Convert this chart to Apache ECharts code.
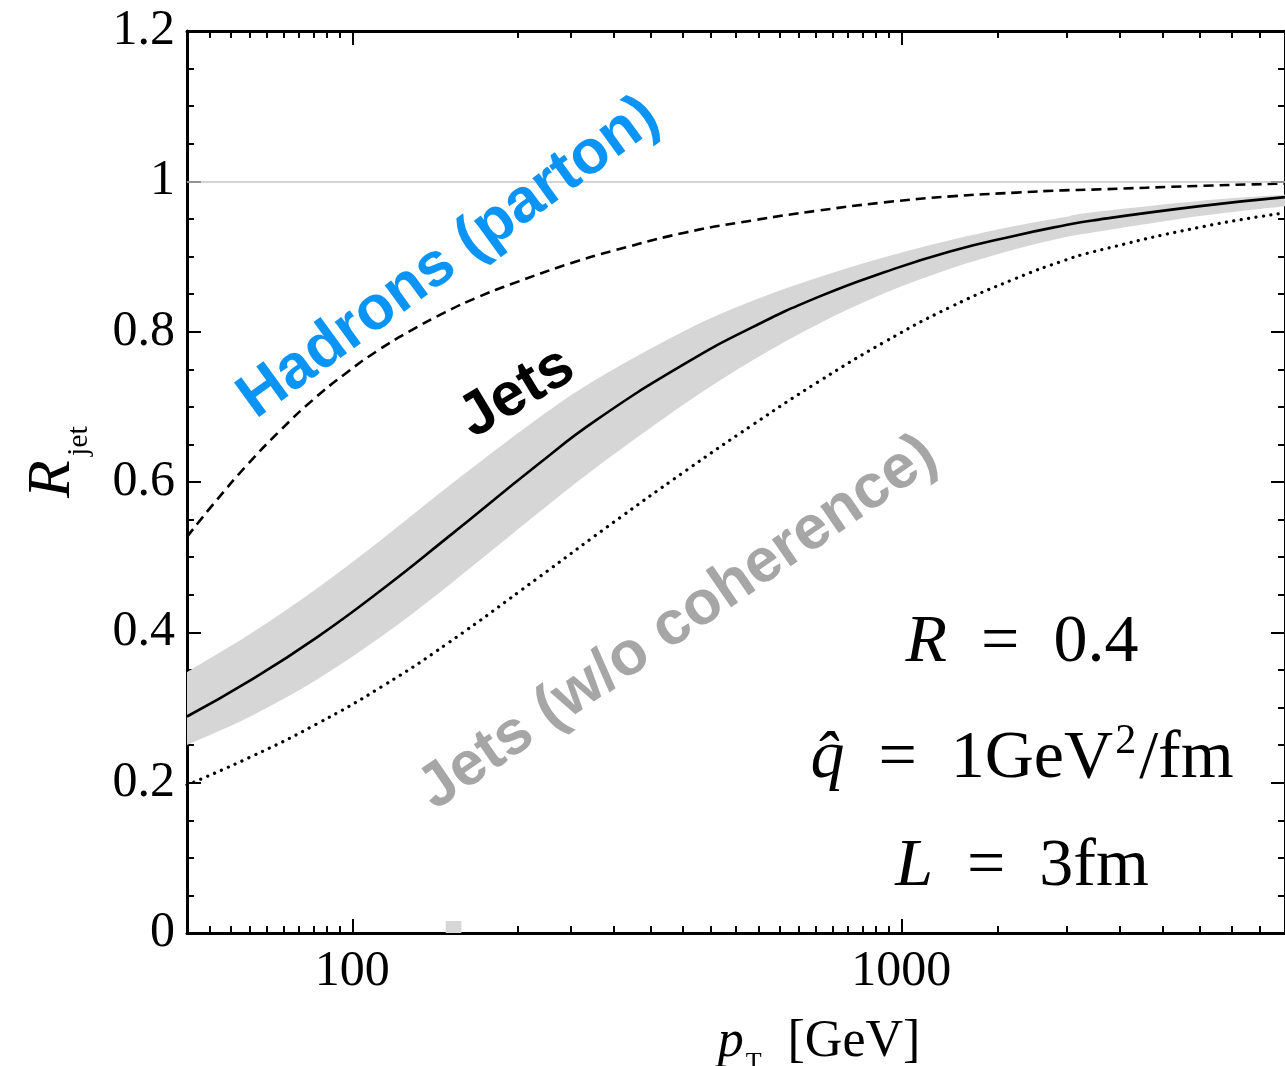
<!DOCTYPE html>
<html>
<head>
<meta charset="utf-8">
<script src="https://cdn.jsdelivr.net/npm/echarts@6.0.0/dist/echarts.min.js"></script>
<style>
  html, body { margin: 0; padding: 0; background: #ffffff; }
  #chart { width: 1285px; height: 1066px; }
</style>
</head>
<body>
<div id="chart"></div>
<script>
// Jet suppression factor R_jet versus jet p_T (GeV), R = 0.4, qhat = 1 GeV^2/fm, L = 3 fm

// Hadrons (leading parton), dashed
const ptHadron = [50, 55.9, 64.4, 73.8, 84.7, 97.5, 111.9, 128.3, 147.8, 169.5, 194.4, 250, 300, 405, 536, 705, 931, 1231, 1619, 1968, 2230, 3500, 5000];
const rHadron  = [0.527, 0.571, 0.623, 0.668, 0.709, 0.745, 0.776, 0.802, 0.826, 0.846, 0.863, 0.891, 0.908, 0.932, 0.948, 0.961, 0.972, 0.980, 0.985, 0.988, 0.989, 0.994, 0.997];

// Jets, solid central curve
const ptJet = [50, 65.2, 86.1, 113.3, 149.6, 217.5, 279, 405, 536, 705, 931, 1231, 1619, 1968, 2230, 3500, 5000];
const rJet  = [0.288, 0.336, 0.393, 0.457, 0.527, 0.623, 0.683, 0.758, 0.806, 0.846, 0.879, 0.907, 0.928, 0.941, 0.948, 0.967, 0.979];

// Jets, uncertainty band (lower / upper edge)
const ptBand    = [50, 65.2, 86.1, 113.3, 149.6, 217.5, 279, 405, 536, 705, 931, 1231, 1619, 1968, 2230, 3500, 5000];
const rBandLow  = [0.250, 0.288, 0.337, 0.395, 0.462, 0.558, 0.620, 0.705, 0.762, 0.810, 0.851, 0.884, 0.910, 0.925, 0.932, 0.954, 0.967];
const rBandHigh = [0.347, 0.398, 0.458, 0.524, 0.594, 0.684, 0.737, 0.802, 0.841, 0.872, 0.899, 0.922, 0.941, 0.952, 0.959, 0.974, 0.982];

// Jets without colour coherence, dotted
const ptNoCoh = [50, 65.2, 86.1, 113.3, 149.6, 217.5, 291, 405, 536, 705, 931, 1231, 1619, 1968, 2230, 3500, 5000];
const rNoCoh  = [0.197, 0.234, 0.278, 0.328, 0.386, 0.472, 0.540, 0.615, 0.676, 0.733, 0.786, 0.833, 0.871, 0.894, 0.906, 0.939, 0.958];

// Axis ticks
const xMajorTicks = [100, 1000];
const xMinorTicks = [55, 60, 65, 70, 75, 80, 85, 90, 95,
                     200, 250, 300, 350, 400, 450, 500, 550, 600, 650, 700, 750, 800, 850, 900, 950,
                     1500, 2000, 2500, 3000, 3500, 4000, 4500];
const xMarkerBin = [148, 158];   // light grey marker on the p_T axis

const pairs = (xs, ys) => xs.map((x, i) => [x, ys[i]]);

const serif = '"Liberation Serif", "Times New Roman", serif';
const sans = '"Liberation Sans", Arial, Helvetica, sans-serif';

const gridBox = { left: 187, top: 31, width: 1107, height: 902 };

function xAxisDef(position, ticks, len, showLine, showLabel) {
  return {
    type: 'log', logBase: 10, min: 50, max: 5000, position: position,
    axisLine: { show: showLine, lineStyle: { color: '#000', width: 3 } },
    axisTick: { show: true, inside: true, length: len, customValues: ticks,
                lineStyle: { color: '#000', width: 2 } },
    axisLabel: { show: showLabel, customValues: xMajorTicks, margin: 14,
                 formatter: (v) => String(Math.round(v)),
                 color: '#000', fontFamily: serif, fontSize: 50 },
    splitLine: { show: false }, minorTick: { show: false }, minorSplitLine: { show: false }
  };
}

function yAxisDef(position, showLabel) {
  return {
    type: 'value', min: 0, max: 1.2, interval: 0.2, position: position,
    axisLine: { show: true, lineStyle: { color: '#000', width: 3 } },
    axisTick: { show: true, inside: true, length: 14, lineStyle: { color: '#000', width: 2 } },
    minorTick: { show: true, splitNumber: 4, length: 7, lineStyle: { color: '#000', width: 2 } },
    axisLabel: { show: showLabel, margin: 12, color: '#000', fontFamily: serif, fontSize: 50 },
    splitLine: { show: false }, minorSplitLine: { show: false }
  };
}

// Catmull-Rom style cubic segments through projected pixel points
function curveSegments(pts) {
  let d = '';
  for (let i = 0; i < pts.length - 1; i++) {
    const p0 = pts[i - 1] || pts[i], p1 = pts[i], p2 = pts[i + 1], p3 = pts[i + 2] || pts[i + 1];
    const c1x = p1[0] + (p2[0] - p0[0]) / 6, c1y = p1[1] + (p2[1] - p0[1]) / 6;
    const c2x = p2[0] - (p3[0] - p1[0]) / 6, c2y = p2[1] - (p3[1] - p1[1]) / 6;
    d += ' C ' + c1x + ' ' + c1y + ' ' + c2x + ' ' + c2y + ' ' + p2[0] + ' ' + p2[1];
  }
  return d;
}

// Band between the lower and upper edges, projected through the chart's axes
function renderBand(params, api) {
  if (params.dataIndex !== 0) return null;
  const upper = ptBand.map((x, i) => api.coord([x, rBandHigh[i]]));
  const lower = ptBand.map((x, i) => api.coord([x, rBandLow[i]])).reverse();
  const d = 'M ' + upper[0][0] + ' ' + upper[0][1] + curveSegments(upper) +
            ' L ' + lower[0][0] + ' ' + lower[0][1] + curveSegments(lower) + ' Z';
  return {
    type: 'path',
    shape: { pathData: d },
    style: { fill: '#d6d6d6', stroke: null }
  };
}

const chart = echarts.init(document.getElementById('chart'), null, { renderer: 'canvas' });

const option = {
  backgroundColor: '#ffffff',
  animation: false,
  grid: gridBox,
  xAxis: [
    xAxisDef('bottom', xMajorTicks, 14, true, true),
    xAxisDef('bottom', xMinorTicks, 7, false, false),
    xAxisDef('top', xMajorTicks, 14, true, false),
    xAxisDef('top', xMinorTicks, 7, false, false)
  ],
  yAxis: [
    yAxisDef('left', true),
    yAxisDef('right', false)
  ],
  series: [
    {
      name: 'band', type: 'custom', silent: true, clip: true, z: 1,
      data: ptBand.map((x, i) => [x, rBandLow[i], rBandHigh[i]]),
      encode: { x: 0, y: [1, 2] },
      renderItem: renderBand,
      markLine: {
        silent: true, symbol: 'none', label: { show: false },
        lineStyle: { color: '#c4c4c4', width: 1.5, type: 'solid' },
        data: [{ yAxis: 1 }]
      },
      markArea: {
        silent: true, itemStyle: { color: '#d6d6d6' },
        data: [[{ coord: [xMarkerBin[0], 0] }, { coord: [xMarkerBin[1], 0.016] }]]
      }
    },
    {
      name: 'Jets (w/o coherence)', type: 'line', smooth: 0.5, symbol: 'none',
      data: pairs(ptNoCoh, rNoCoh),
      lineStyle: { color: '#000', width: 3.2, type: [0.1, 7.4], cap: 'round' }, z: 3
    },
    {
      name: 'Jets', type: 'line', smooth: 0.5, symbol: 'none',
      data: pairs(ptJet, rJet),
      lineStyle: { color: '#000', width: 2.6 }, z: 3
    },
    {
      name: 'Hadrons (parton)', type: 'line', smooth: 0.5, symbol: 'none',
      data: pairs(ptHadron, rHadron),
      lineStyle: { color: '#000', width: 2.6, type: [10, 6] }, z: 3
    }
  ],
  graphic: [
    // axis titles
    {
      type: 'text', x: 819, y: 1040, z: 100,
      style: {
        text: '{i|p}{s|T}{n|  [GeV]}', align: 'center', verticalAlign: 'middle',
        rich: {
          i: { fontFamily: serif, fontStyle: 'italic', fontSize: 52, fill: '#000', verticalAlign: 'bottom', lineHeight: 56 },
          s: { fontFamily: serif, fontSize: 26, fill: '#000', verticalAlign: 'bottom', lineHeight: 56, padding: [0, 0, -8, 2] },
          n: { fontFamily: serif, fontSize: 52, fill: '#000', verticalAlign: 'bottom', lineHeight: 56 }
        }
      },
      silent: true
    },
    {
      type: 'text', x: 52, y: 462, rotation: Math.PI / 2, z: 100,
      style: {
        text: '{i|R}{s|jet}', align: 'center', verticalAlign: 'middle',
        rich: {
          i: { fontFamily: serif, fontStyle: 'italic', fontSize: 62, fill: '#000', verticalAlign: 'bottom', lineHeight: 64 },
          s: { fontFamily: serif, fontSize: 30, fill: '#000', verticalAlign: 'bottom', lineHeight: 64, padding: [0, 0, -10, 4] }
        }
      },
      silent: true
    },
    // curve annotations
    {
      type: 'text', x: 449, y: 258, rotation: 36 * Math.PI / 180, z: 100,
      style: { text: 'Hadrons (parton)', align: 'center', verticalAlign: 'middle',
               fontFamily: sans, fontWeight: 'bold', fontSize: 62, fill: '#0a94f5' },
      silent: true
    },
    {
      type: 'text', x: 517, y: 393, rotation: 31 * Math.PI / 180, z: 100,
      style: { text: 'Jets', align: 'center', verticalAlign: 'middle',
               fontFamily: sans, fontWeight: 'bold', fontSize: 61, fill: '#000' },
      silent: true
    },
    {
      type: 'text', x: 678, y: 623, rotation: 34.5 * Math.PI / 180, z: 100,
      style: { text: 'Jets (w/o coherence)', align: 'center', verticalAlign: 'middle',
               fontFamily: sans, fontWeight: 'bold', fontSize: 62, fill: '#a6a6a6' },
      silent: true
    },
    // parameter box
    {
      type: 'text', x: 1022, y: 643, z: 100,
      style: {
        text: '{i|R}{n|  =  0.4}', align: 'center', verticalAlign: 'middle',
        rich: {
          i: { fontFamily: serif, fontStyle: 'italic', fontSize: 68, fill: '#000' },
          n: { fontFamily: serif, fontSize: 68, fill: '#000' }
        }
      },
      silent: true
    },
    {
      type: 'text', x: 1022, y: 757, z: 100,
      style: {
        text: '{i|q\u0302}{n|  =  1GeV}{p|2}{n|/fm}', align: 'center', verticalAlign: 'middle',
        rich: {
          i: { fontFamily: serif, fontStyle: 'italic', fontSize: 68, fill: '#000', verticalAlign: 'bottom', lineHeight: 72 },
          n: { fontFamily: serif, fontSize: 68, fill: '#000', verticalAlign: 'bottom', lineHeight: 72 },
          p: { fontFamily: serif, fontSize: 42, fill: '#000', verticalAlign: 'bottom', lineHeight: 72, padding: [0, 3, 30, 2] }
        }
      },
      silent: true
    },
    {
      type: 'text', x: 1022, y: 867, z: 100,
      style: {
        text: '{i|L}{n|  =  3fm}', align: 'center', verticalAlign: 'middle',
        rich: {
          i: { fontFamily: serif, fontStyle: 'italic', fontSize: 68, fill: '#000' },
          n: { fontFamily: serif, fontSize: 68, fill: '#000' }
        }
      },
      silent: true
    }
  ]
};

chart.setOption(option);
</script>
</body>
</html>
